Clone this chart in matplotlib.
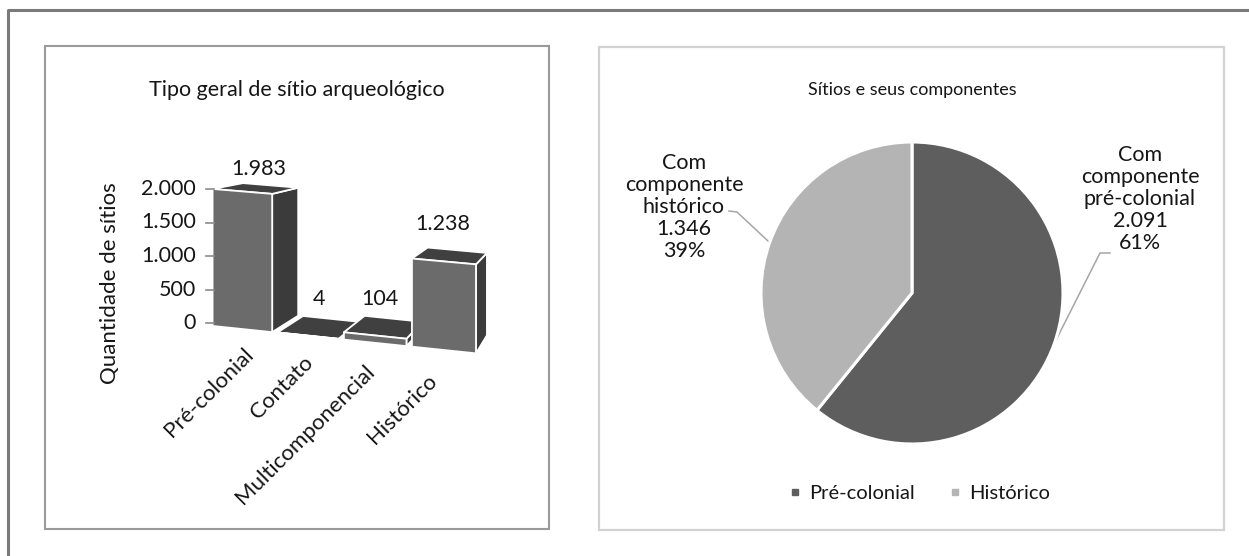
import matplotlib
matplotlib.use("Agg")
import matplotlib.pyplot as plt
from matplotlib.patches import Polygon, Rectangle
from matplotlib.lines import Line2D
import numpy as np

plt.rcParams['font.family'] = ['Lato', 'DejaVu Sans']

# ---- data ----
categorias = ["Pré-colonial", "Contato", "Multicomponencial", "Histórico"]
quantidades = [1983, 4, 104, 1238]
rotulos_barras = ["1.983", "4", "104", "1.238"]
ticks_valor = [0, 500, 1000, 1500, 2000]
ticks_rotulos = ["0", "500", "1.000", "1.500", "2.000"]

componentes = ["Pré-colonial", "Histórico"]
sitios_comp = [2091, 1346]
rotulos_pizza = ["Com\ncomponente\npré-colonial\n2.091\n61%",
                 "Com\ncomponente\nhistórico\n1.346\n39%"]

W, H = 1249, 556
fig = plt.figure(figsize=(W / 100, H / 100), dpi=100)
canvas = fig.add_axes([0, 0, 1, 1])
canvas.set_xlim(0, W)
canvas.set_ylim(H, 0)
canvas.axis("off")

TXT = "#161616"

# outer frame (top and left edges) and the two panel boxes
canvas.plot([8, 8, W], [H, 10, 10], color="#7a7a7a", lw=2.2, solid_capstyle="butt")
canvas.add_patch(Rectangle((45, 46), 504, 483, fill=False, ec="#9a9a9a", lw=1.5))
canvas.add_patch(Rectangle((599, 47), 625, 483, fill=False, ec="#d2d2d2", lw=1.6))

# ---- left panel: 3-D style column chart ----
canvas.text(297, 90, "Tipo geral de sítio arqueológico", ha="center", va="center",
            fontsize=15.5, color=TXT)

# projection of (category coordinate, value, depth) onto the panel
VP = np.array([624.0, 110.0])   # vanishing point of depth lines
DEPTH = 0.074


def x_cat(u):
    return 210 + 64 * u + 0.8 * u * u


def front(u, val):
    x = x_cat(u)
    y = 326 + 0.104 * (x - 213) - val * (0.0691 + 0.0000106 * (x - 213))
    return np.array([x, y])


def back(p):
    return p + DEPTH * (VP - p)


FRONT_C = "#6b6b6b"
SIDE_C = "#3b3b3b"
TOP_C = "#404040"
EDGE = "white"
gap = 0.04

for i, (v, lab) in enumerate(zip(quantidades, rotulos_barras)):
    u0, u1 = i + gap, i + 1 - gap
    f00, f10 = front(u0, 0), front(u1, 0)
    f01, f11 = front(u0, v), front(u1, v)
    side = [f10, f11, back(f11), back(f10)]
    top = [f01, f11, back(f11), back(f01)]
    face = [f00, f10, f11, f01]
    canvas.add_patch(Polygon(side, closed=True, fc=SIDE_C, ec=EDGE, lw=1.3, joinstyle="round"))
    canvas.add_patch(Polygon(top, closed=True, fc=TOP_C, ec=EDGE, lw=1.3, joinstyle="round"))
    canvas.add_patch(Polygon(face, closed=True, fc=FRONT_C, ec=EDGE, lw=1.3, joinstyle="round"))
    # value label above the column, kept inside the plot area
    top_mid = (f01 + f11 + back(f11) + back(f01)) / 4
    fc = (f01 + f11) / 2
    ly = max(fc[1] - 37, 169)
    canvas.text(top_mid[0] + 2 - 0.05 * (top_mid[0] - 258), ly, lab, ha="center",
                va="center", fontsize=15.5, color=TXT)
    # category label, rotated 45 degrees
    bc = (f00 + f10) / 2
    canvas.text(bc[0] + 8 - 0.09 * (bc[0] - 243), bc[1] + 22 + 0.03 * (bc[0] - 243),
                categorias[i], rotation=45, rotation_mode="anchor",
                ha="right", va="center", fontsize=16, color=TXT)

# value axis ticks
for tv, tl in zip(ticks_valor, ticks_rotulos):
    ty = 323 - tv * 0.067
    canvas.plot([206, 214], [ty, ty], color="#8a8a8a", lw=1.2)
    canvas.text(196, ty, tl, ha="right", va="center", fontsize=15.5, color=TXT)

canvas.text(110, 283, "Quantidade de sítios", rotation=90, ha="center", va="center",
            fontsize=16, color=TXT)

# ---- right panel: pie chart ----
canvas.text(912, 90, "Sítios e seus componentes", ha="center", va="center",
            fontsize=13, color=TXT)

CX, CY, R = 912, 293, 151
pie_ax = fig.add_axes([(CX - R) / W, 1 - (CY + R) / H, 2 * R / W, 2 * R / H])
cores = ["#5e5e5e", "#b4b4b4"]
wedges, _ = pie_ax.pie(sitios_comp, colors=cores, startangle=90, counterclock=False,
                       radius=1, wedgeprops=dict(edgecolor="white", linewidth=2.2))
pie_ax.set_xlim(-1, 1)
pie_ax.set_ylim(-1, 1)
pie_ax.axis("off")


def to_px(ang_deg, r=1.0):
    a = np.deg2rad(ang_deg)
    return CX + R * r * np.cos(a), CY - R * r * np.sin(a)


# labels with leader lines to the middle of each wedge
lbl_pos = [(1140, 199), (684, 207)]
lead_start = [[(1110, 253), (1100, 253)], [(729, 211), (737, 212)]]
for w, txt, (lx, ly), pts in zip(wedges, rotulos_pizza, lbl_pos, lead_start):
    mid = (w.theta1 + w.theta2) / 2
    ex, ey = to_px(mid)
    xs = [p[0] for p in pts] + [ex]
    ys = [p[1] for p in pts] + [ey]
    canvas.plot(xs, ys, color="#a6a6a6", lw=1.1)
    canvas.text(lx, ly, txt, ha="center", va="center", fontsize=15.5, color=TXT,
                linespacing=1.14)

# legend
handles = [Line2D([], [], marker="s", ls="", color=c, markersize=5) for c in cores]
canvas.legend(handles, componentes, loc="center", bbox_to_anchor=(920 / W, 1 - 493 / H),
              bbox_transform=fig.transFigure, ncol=2, frameon=False, fontsize=14.5,
              handlelength=0.5, handletextpad=0.45, columnspacing=1.7,
              labelcolor=TXT)

fig.savefig("out.png", dpi=100)
